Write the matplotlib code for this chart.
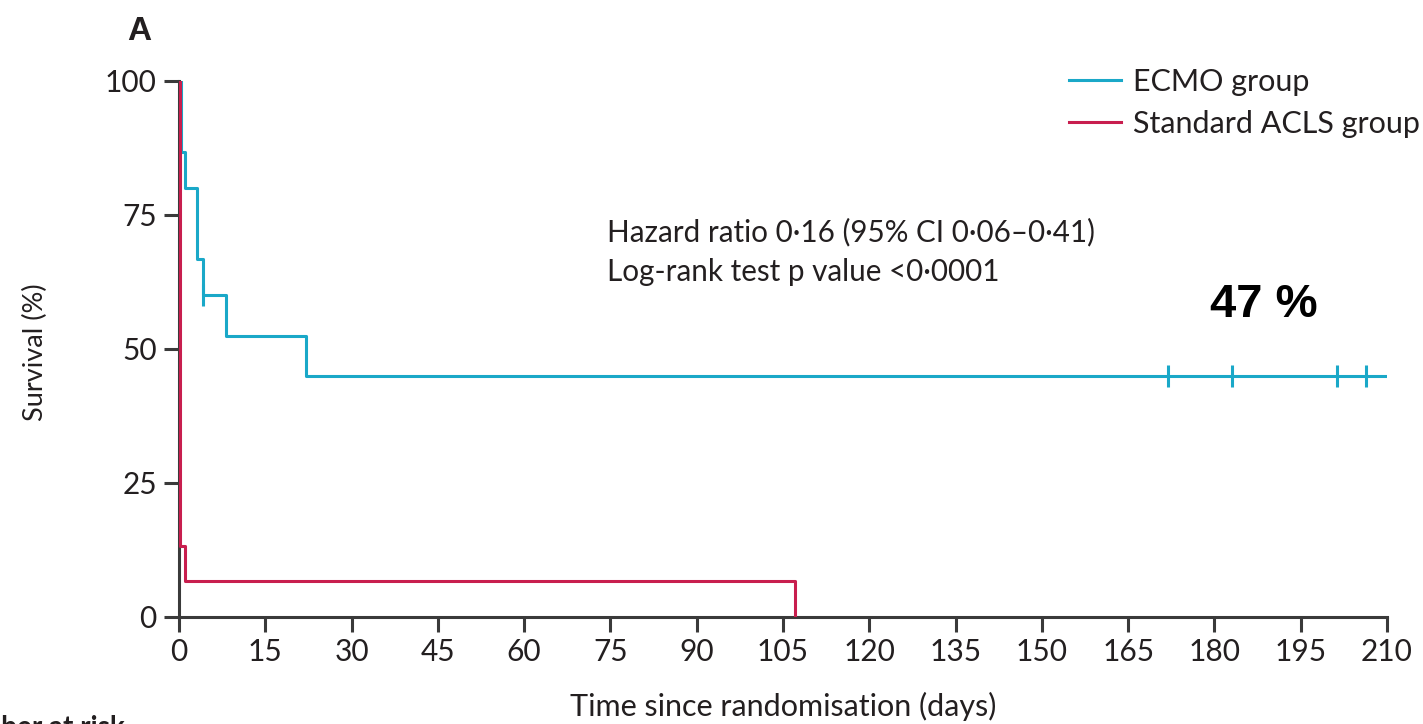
import numpy as np
import matplotlib
matplotlib.use("Agg")
import matplotlib.pyplot as plt

# Kaplan-Meier steps
ecmo_times = [0, 0.4, 1.0, 3.2, 4.1, 8.2, 22.1, 210]
ecmo_surv = [100, 86.7, 80.0, 66.7, 60.0, 52.5, 45.0, 45.0]
ecmo_censor_t = [4.2, 172.0, 183.0, 201.3, 206.3]
ecmo_censor_s = [60.0, 45.0, 45.0, 45.0, 45.0]

acls_times = [0, 0.2, 1.0, 107]
acls_surv = [100, 13.3, 6.7, 0]

xticks = np.arange(0, 211, 15)
yticks = [0, 25, 50, 75, 100]

blue = '#1aa8c8'
red = '#c81e4e'
ink = '#231f20'

plt.rcParams['font.family'] = ['Lato', 'DejaVu Sans']

fig = plt.figure(figsize=(14.23, 7.24), dpi=100)
ax = fig.add_axes([179/1423, 107/724, 1208/1423, 536/724])

ax.step(acls_times, acls_surv, where='post', color=red, lw=2.2, label='Standard ACLS group', zorder=3)
ax.step(ecmo_times, ecmo_surv, where='post', color=blue, lw=2.2, label='ECMO group', zorder=2)
ax.plot(ecmo_censor_t, ecmo_censor_s, ls='none', marker='|', ms=16, mew=2.2, color=blue)

ax.set_xlim(0, 210)
ax.set_ylim(0, 100)
ax.set_xticks(xticks)
ax.set_yticks(yticks)
for s in ['top', 'right']:
    ax.spines[s].set_visible(False)
for s in ['left', 'bottom']:
    ax.spines[s].set_color('#3a3a3a')
    ax.spines[s].set_linewidth(2.2)
ax.tick_params(direction='out', length=11, width=2.2, color='#3a3a3a', labelsize=21.5, labelcolor=ink)
ax.tick_params(axis='x', pad=4)
ax.tick_params(axis='y', pad=5)
ax.margins(0)

fig.text(35/1423, 1 - 352/724, 'Survival (%)', rotation=90, ha='center', va='center', fontsize=19.5, color=ink)
fig.text(783/1423, 1 - 706/724, 'Time since randomisation (days)', ha='center', va='center', fontsize=22, color=ink)
fig.text(127/1423, 1 - 31/724, 'A', ha='left', va='center', fontsize=24, fontweight='bold', color=ink,
         family=['Liberation Sans'])

fig.text(607/1423, 1 - 232/724, 'Hazard ratio 0·16 (95% CI 0·06–0·41)',
         ha='left', va='center', fontsize=21.3, color=ink)
fig.text(607/1423, 1 - 272/724, 'Log-rank test p value <0·0001',
         ha='left', va='center', fontsize=21.3, color=ink)
fig.text(1210/1423, 1 - 305/724, '47 %', ha='left', va='center', fontsize=34, fontweight='bold',
         color='black', family=['Liberation Sans'])

handles, labels = ax.get_legend_handles_labels()
leg = ax.legend(handles[::-1], labels[::-1], loc='upper left', bbox_to_anchor=(1069/1423, 1 - 68/724),
                bbox_transform=fig.transFigure, frameon=False, fontsize=22, handlelength=1.7,
                handletextpad=0.4, labelspacing=0.45, borderaxespad=0, borderpad=0)
for t in leg.get_texts():
    t.set_color(ink)

fig.text(125/1423, 1 - 715/724, 'Number at risk', ha='right', va='top', fontsize=20, fontweight='bold', color=ink)

fig.savefig('out.png', dpi=100)
plt.close()
